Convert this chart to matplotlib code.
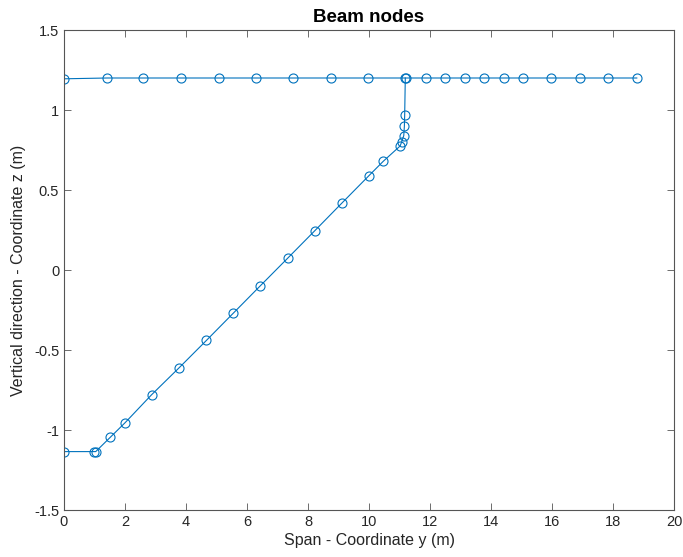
import matplotlib
matplotlib.use("Agg")
import numpy as np
import matplotlib.pyplot as plt

plt.rcParams['font.family'] = ['Liberation Sans', 'DejaVu Sans']

# deck nodes (top line)
deck_y = [0.0, 1.42, 2.6, 3.85, 5.07, 6.31, 7.52, 8.75, 9.97, 11.2, 11.86, 12.5,
          13.14, 13.78, 14.41, 15.04, 15.97, 16.91, 17.85, 18.78]
deck_z = [1.195, 1.2, 1.2, 1.2, 1.2, 1.2, 1.2, 1.2, 1.2, 1.2, 1.2, 1.2,
          1.2, 1.2, 1.2, 1.2, 1.2, 1.2, 1.2, 1.2]

# strut / hull nodes from deck down to bottom
strut_y = [11.19, 11.17, 11.16, 11.14, 11.07, 11.02, 10.47, 10.0, 9.12, 8.22, 7.34,
           6.43, 5.55, 4.67, 3.78, 2.87, 2.0, 1.52, 1.04, 0.99, 0.0]
strut_z = [1.2, 0.97, 0.9, 0.84, 0.8, 0.775, 0.68, 0.59, 0.42, 0.245, 0.075,
           -0.1, -0.27, -0.44, -0.61, -0.78, -0.955, -1.045, -1.135, -1.135, -1.135]

col = '#0072BD'
fig = plt.figure(figsize=(6.83, 5.57), dpi=100)
ax = fig.add_axes([64/683, 47/557, 610/683, 480/557])

ax.plot(deck_y, deck_z, '-o', color=col, lw=0.8, ms=6.5, mfc='none', mew=0.8)
ax.plot(strut_y, strut_z, '-o', color=col, lw=0.8, ms=6.5, mfc='none', mew=0.8)

ax.set_xlim(0, 20)
ax.set_ylim(-1.5, 1.5)
ax.set_xticks(np.arange(0, 21, 2))
ax.set_yticks(np.arange(-1.5, 1.51, 0.5))
ax.set_yticklabels(['-1.5', '-1', '-0.5', '0', '0.5', '1', '1.5'])

gray = '#262626'
for s in ax.spines.values():
    s.set_color('#555555')
    s.set_linewidth(0.8)
ax.tick_params(direction='in', top=True, right=True, length=5, width=0.6,
               colors='#555555', labelcolor=gray, labelsize=10.5)

ax.set_xlabel('Span - Coordinate y (m)', fontsize=11.5, color=gray, labelpad=3)
ax.set_ylabel('Vertical direction - Coordinate z (m)', fontsize=11.5, color=gray, labelpad=6)
ax.set_title('Beam nodes', fontsize=13.5, fontweight='bold', pad=6)

fig.savefig('out.png', dpi=100)
